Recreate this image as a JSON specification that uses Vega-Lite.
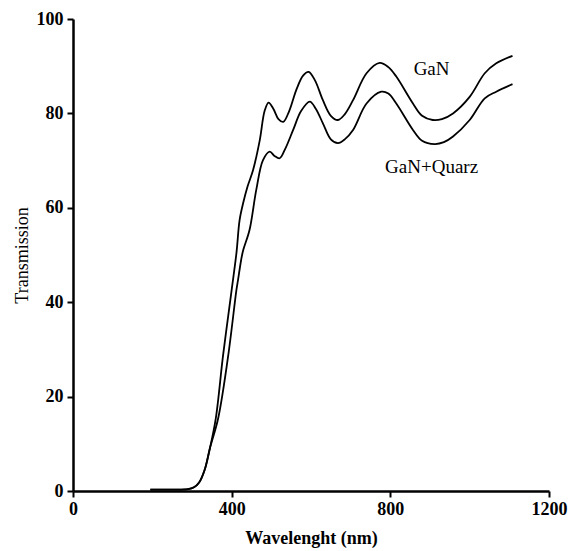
{
  "$schema": "https://vega.github.io/schema/vega-lite/v6.json",
  "width": 476,
  "height": 472,
  "autosize": "none",
  "padding": {"left": 73, "top": 19, "right": 26, "bottom": 60},
  "background": "white",
  "config": {"view": {"stroke": null}, "font": "Liberation Serif"},
  "datasets": {
    "curves": [
      {"wl": 195, "t": 0.3, "s": "GaN"}, {"wl": 250, "t": 0.3, "s": "GaN"}, {"wl": 290, "t": 0.4, "s": "GaN"}, {"wl": 305, "t": 0.8, "s": "GaN"}, {"wl": 318, "t": 1.8, "s": "GaN"}, {"wl": 332, "t": 4.5, "s": "GaN"}, {"wl": 345, "t": 9, "s": "GaN"}, {"wl": 360, "t": 15.4, "s": "GaN"}, {"wl": 378, "t": 28.5, "s": "GaN"}, {"wl": 399, "t": 42, "s": "GaN"}, {"wl": 412, "t": 50.4, "s": "GaN"}, {"wl": 420, "t": 57.4, "s": "GaN"}, {"wl": 429, "t": 61, "s": "GaN"}, {"wl": 440, "t": 64.5, "s": "GaN"}, {"wl": 454, "t": 68, "s": "GaN"}, {"wl": 471, "t": 74.4, "s": "GaN"}, {"wl": 483, "t": 80.5, "s": "GaN"}, {"wl": 493, "t": 82.3, "s": "GaN"}, {"wl": 505, "t": 81, "s": "GaN"}, {"wl": 518, "t": 78.8, "s": "GaN"}, {"wl": 530, "t": 78.2, "s": "GaN"}, {"wl": 545, "t": 80.5, "s": "GaN"}, {"wl": 563, "t": 85, "s": "GaN"}, {"wl": 580, "t": 88, "s": "GaN"}, {"wl": 594, "t": 88.8, "s": "GaN"}, {"wl": 610, "t": 87, "s": "GaN"}, {"wl": 630, "t": 82.8, "s": "GaN"}, {"wl": 650, "t": 79.5, "s": "GaN"}, {"wl": 668, "t": 78.6, "s": "GaN"}, {"wl": 685, "t": 79.8, "s": "GaN"}, {"wl": 706, "t": 82.8, "s": "GaN"}, {"wl": 740, "t": 88.5, "s": "GaN"}, {"wl": 773, "t": 90.7, "s": "GaN"}, {"wl": 795, "t": 89.8, "s": "GaN"}, {"wl": 815, "t": 87.8, "s": "GaN"}, {"wl": 857, "t": 82.1, "s": "GaN"}, {"wl": 880, "t": 79.5, "s": "GaN"}, {"wl": 907, "t": 78.6, "s": "GaN"}, {"wl": 930, "t": 78.8, "s": "GaN"}, {"wl": 958, "t": 80, "s": "GaN"}, {"wl": 1000, "t": 83.5, "s": "GaN"}, {"wl": 1038, "t": 88.5, "s": "GaN"}, {"wl": 1067, "t": 90.6, "s": "GaN"}, {"wl": 1108, "t": 92.2, "s": "GaN"},
      {"wl": 195, "t": 0.3, "s": "Q"}, {"wl": 250, "t": 0.3, "s": "Q"}, {"wl": 290, "t": 0.4, "s": "Q"}, {"wl": 305, "t": 0.8, "s": "Q"}, {"wl": 318, "t": 1.8, "s": "Q"}, {"wl": 332, "t": 4.5, "s": "Q"}, {"wl": 345, "t": 9, "s": "Q"}, {"wl": 366, "t": 15.4, "s": "Q"}, {"wl": 391, "t": 28.5, "s": "Q"}, {"wl": 412, "t": 42.6, "s": "Q"}, {"wl": 416, "t": 44.7, "s": "Q"}, {"wl": 424, "t": 49, "s": "Q"}, {"wl": 429, "t": 51, "s": "Q"}, {"wl": 445, "t": 55.3, "s": "Q"}, {"wl": 462, "t": 63.8, "s": "Q"}, {"wl": 479, "t": 70.1, "s": "Q"}, {"wl": 496, "t": 71.9, "s": "Q"}, {"wl": 508, "t": 71, "s": "Q"}, {"wl": 521, "t": 70.5, "s": "Q"}, {"wl": 535, "t": 72.5, "s": "Q"}, {"wl": 555, "t": 76.5, "s": "Q"}, {"wl": 575, "t": 80.5, "s": "Q"}, {"wl": 597, "t": 82.5, "s": "Q"}, {"wl": 612, "t": 81, "s": "Q"}, {"wl": 630, "t": 77.9, "s": "Q"}, {"wl": 650, "t": 74.5, "s": "Q"}, {"wl": 668, "t": 73.7, "s": "Q"}, {"wl": 685, "t": 74.5, "s": "Q"}, {"wl": 706, "t": 76.5, "s": "Q"}, {"wl": 740, "t": 82.1, "s": "Q"}, {"wl": 777, "t": 84.6, "s": "Q"}, {"wl": 795, "t": 84.2, "s": "Q"}, {"wl": 815, "t": 82.1, "s": "Q"}, {"wl": 857, "t": 76.5, "s": "Q"}, {"wl": 880, "t": 74.2, "s": "Q"}, {"wl": 912, "t": 73.5, "s": "Q"}, {"wl": 935, "t": 73.9, "s": "Q"}, {"wl": 958, "t": 75.1, "s": "Q"}, {"wl": 1000, "t": 78.6, "s": "Q"}, {"wl": 1038, "t": 83.2, "s": "Q"}, {"wl": 1067, "t": 84.6, "s": "Q"}, {"wl": 1108, "t": 86.2, "s": "Q"}
    ],
    "labels": [
      {"wl": 904, "t": 89.5, "label": "GaN"},
      {"wl": 904, "t": 68.7, "label": "GaN+Quarz"}
    ]
  },
  "layer": [
    {
      "data": {"name": "curves"},
      "mark": {"type": "line", "color": "black", "strokeWidth": 1.8, "interpolate": "catmull-rom"},
      "encoding": {
        "x": {"field": "wl", "type": "quantitative", "scale": {"domain": [0, 1200], "nice": false},
          "axis": {"title": "Wavelenght (nm)", "values": [0, 400, 800, 1200], "format": "d", "grid": false, "domainColor": "black", "domainWidth": 2.5, "tickColor": "black", "tickWidth": 2, "tickSize": 6, "labelFont": "Liberation Serif", "labelFontSize": 18, "labelFontWeight": "bold", "labelColor": "black", "labelPadding": 3, "labelFlush": false, "titleFont": "Liberation Serif", "titleFontSize": 18, "titleFontWeight": "bold", "titleColor": "black", "titlePadding": 11}},
        "y": {"field": "t", "type": "quantitative", "scale": {"domain": [0, 100], "nice": false},
          "axis": {"title": "Transmission", "values": [0, 20, 40, 60, 80, 100], "format": "d", "grid": false, "domainColor": "black", "domainWidth": 2.5, "tickColor": "black", "tickWidth": 2, "tickSize": 6, "labelFont": "Liberation Serif", "labelFontSize": 18, "labelFontWeight": "bold", "labelColor": "black", "labelPadding": 4, "labelFlush": false, "titleFont": "Liberation Serif", "titleFontSize": 18, "titleFontWeight": "normal", "titleColor": "black", "titlePadding": 5}},
        "detail": {"field": "s", "type": "nominal"}
      }
    },
    {
      "data": {"name": "labels"},
      "mark": {"type": "text", "font": "Liberation Serif", "fontSize": 19, "color": "black", "align": "center", "baseline": "middle"},
      "encoding": {
        "x": {"field": "wl", "type": "quantitative"},
        "y": {"field": "t", "type": "quantitative"},
        "text": {"field": "label"}
      }
    }
  ]
}
